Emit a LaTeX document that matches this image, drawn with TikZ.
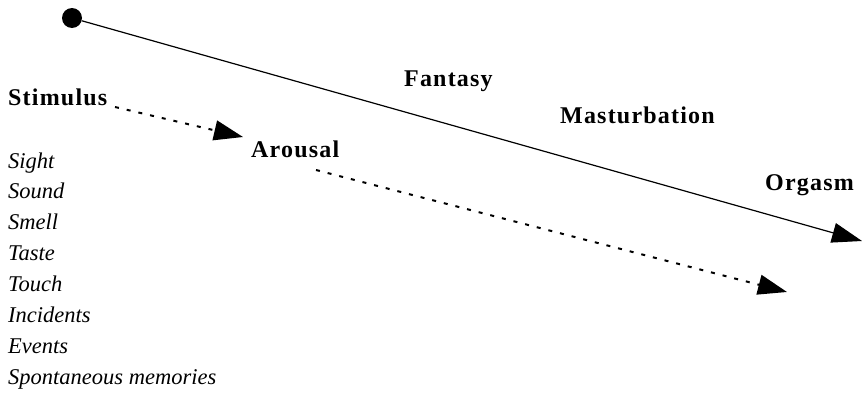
\documentclass[tikz,border=0pt]{standalone}
\usepackage{fontspec}
\setmainfont{Liberation Serif}
\newfontfamily\headfont{Liberation Serif}[LetterSpace=5]
\usetikzlibrary{arrows.meta}
\begin{document}
\begin{tikzpicture}[x=1pt,y=-1pt,
  head/.style={font=\headfont\bfseries\fontsize{24}{28}\selectfont, inner sep=0pt, anchor=base west},
  item/.style={font=\itshape\fontsize{22.5}{26}\selectfont, inner sep=0pt, anchor=base west},
  flow/.style={line width=1.2pt, -{Triangle[length=30pt,width=20pt]}},
  cue/.style={line width=2pt, dash pattern=on 4pt off 8pt, -{Triangle[length=29pt,width=20pt]}}]
\useasboundingbox (0,0) rectangle (863,394);

% main line: from the start dot to orgasm
\node[circle, fill=black, inner sep=0pt, minimum size=20pt] (origin) at (72,18) {};
\coordinate (climax) at (862,241);
\draw[flow] (origin) -- (climax);

% stage labels
\node[head] (stimulus) at (8,105) {Stimulus};
\node[head] (arousal) at (251,157) {Arousal};
\node[head] (fantasy) at (404,86) {Fantasy};
\node[head] (masturbation) at (560,123) {Masturbation};
\node[head] (orgasm) at (765,190) {Orgasm};

% dotted paths
\coordinate (stimOut) at (115,107);
\coordinate (arousIn) at (243,137);
\coordinate (arousOut) at (316,170);
\coordinate (arousEnd) at (787,292);
\draw[cue] (stimOut) -- (arousIn);
\draw[cue] (arousOut) -- (arousEnd);

% kinds of stimulus
\foreach \t [count=\i from 0] in {Sight,Sound,Smell,Taste,Touch,Incidents,Events,Spontaneous memories}
  \node[item] (cue\i) at (8,168+30.9*\i) {\t};
\end{tikzpicture}
\end{document}
